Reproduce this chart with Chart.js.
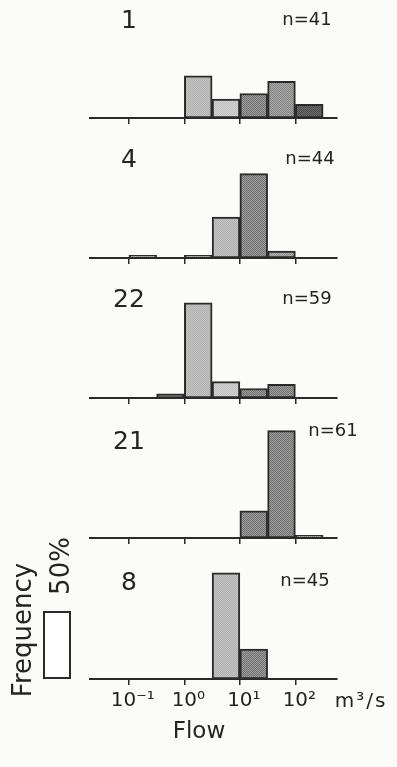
<!DOCTYPE html>
<html>
<head>
<meta charset="utf-8">
<script src="https://cdn.jsdelivr.net/npm/chart.js@4.4.1/dist/chart.umd.min.js"></script>
<style>
  html, body { margin: 0; padding: 0; background: #fbfbf9; }
  #page { position: relative; width: 397px; height: 767px; overflow: hidden; font-family: 'DejaVu Sans', sans-serif; color: #242424; }
  #page canvas { position: absolute; left: 0; }
  .lbl { position: absolute; transform: translate(-50%, -50%); white-space: nowrap; line-height: 1; }
  .rot { transform: translate(-50%, -50%) rotate(-90deg); }
  #key { position: absolute; box-sizing: border-box; border: 2px solid #2a2a2a; background: #fff; }
</style>
</head>
<body>
<div id="page"></div>
<script>
// half-decade flow bins, log10 of the lower edge (m3/s)
var binStarts = [-1.5, -1, -0.5, 0, 0.5, 1, 1.5, 2];
var decadeTicks = [-1, 0, 1, 2];
var tickLabels = ['10⁻¹', '10⁰', '10¹', '10²'];

// frequency (%) per bin, one array per station
var stationNames = ['1', '4', '22', '21', '8'];
var sampleCounts = [41, 44, 59, 61, 45];
var freq1  = [null, null, null, 31, 14, 18, 27, 10];
var freq4  = [null, 2, null, 2, 30, 62, 5, null];
var freq22 = [null, null, 3, 70, 12, 7, 10, null];
var freq21 = [null, null, null, null, null, 20, 79, 2];
var freq8  = [null, null, null, null, 78, 22, null, null];
var freqs = [freq1, freq4, freq22, freq21, freq8];

// shading of each bar as printed
var shades = [
  ['', '', '', 'L', 'P', 'S', 'M', 'K'],
  ['', 'M', '', 'M', 'L', 'S', 'T', ''],
  ['', '', 'K', 'L', 'P', 'S', 'S', ''],
  ['', '', '', '', '', 'S', 'S', 'S'],
  ['', '', '', '', 'L', 'S', '', '']
];

/* ---- layout ---- */
var W = 397;
var PLOT_LEFT = 90, PLOT_RIGHT = 337;
var X_MIN = -1.7, X_MAX = 2.75;
var PX_PER_PCT = 1.36;
var PLOT_H = 112;
var baselines = [118, 258, 398, 538, 679];
var nameX = 129, nameDy = [-99, -100, -100, -98, -98];
var nX = [307, 310, 307, 333, 305], nDy = [-99, -100, -100, -108, -99];
var INK = '#2a2a2a';

var page = document.getElementById('page');

function addText(txt, x, y, size, extra) {
  var d = document.createElement('div');
  d.className = 'lbl' + (extra && extra.rot ? ' rot' : '');
  d.textContent = txt;
  d.style.left = x + 'px';
  d.style.top = y + 'px';
  d.style.fontSize = size + 'px';
  if (extra && extra.spacing) d.style.letterSpacing = extra.spacing + 'px';
  page.appendChild(d);
  return d;
}

function stipple(base, dot) {
  var c = document.createElement('canvas');
  c.width = c.height = 2;
  var g = c.getContext('2d');
  g.fillStyle = base; g.fillRect(0, 0, 2, 2);
  g.fillStyle = dot; g.fillRect(0, 0, 1, 1); g.fillRect(1, 1, 1, 1);
  return g.createPattern(c, 'repeat');
}

var fills = {
  L: stipple('#c4c4c4', '#b0b0b0'),
  P: stipple('#d2d2d2', '#c0c0c0'),
  S: stipple('#9c9c9c', '#727272'),
  M: stipple('#a8a8a8', '#848484'),
  T: stipple('#b2b2b2', '#8e8e8e'),
  K: stipple('#6c6c6c', '#4a4a4a')
};

Chart.defaults.font.family = "'DejaVu Sans', sans-serif";
Chart.defaults.color = '#242424';

freqs.forEach(function (values, p) {
  var last = p === freqs.length - 1;
  var axisH = last ? 40 : 20;
  var cv = document.createElement('canvas');
  cv.width = W;
  cv.height = PLOT_H + axisH;
  cv.style.top = (baselines[p] - PLOT_H) + 'px';
  page.appendChild(cv);

  new Chart(cv, {
    type: 'bar',
    data: {
      datasets: [{
        data: binStarts.map(function (b, i) { return { x: b + 0.25, y: values[i] }; }),
        backgroundColor: shades[p].map(function (k) { return fills[k] || 'transparent'; }),
        borderColor: INK,
        borderWidth: 2,
        borderSkipped: false,
        barPercentage: 1,
        categoryPercentage: 1
      }]
    },
    options: {
      responsive: false, animation: false, devicePixelRatio: 1,
      layout: { padding: { left: PLOT_LEFT, right: W - PLOT_RIGHT, top: 0, bottom: 0 } },
      plugins: { legend: { display: false }, tooltip: { enabled: false } },
      scales: {
        x: {
          type: 'linear', min: X_MIN, max: X_MAX, offset: false,
          afterBuildTicks: function (s) { s.ticks = decadeTicks.map(function (v) { return { value: v }; }); },
          afterFit: function (s) { s.height = axisH; },
          border: { color: INK, width: 2 },
          grid: { offset: false, drawOnChartArea: false, drawTicks: true, tickLength: 6, color: INK, lineWidth: 1.5 },
          ticks: {
            display: last, autoSkip: false, maxRotation: 0, padding: 4,
            font: { size: 20 }, color: '#242424', labelOffset: 4,
            callback: function (v, i) { return tickLabels[i]; }
          }
        },
        y: { display: false, min: 0, max: PLOT_H / PX_PER_PCT }
      }
    }
  });

  addText(stationNames[p], nameX, baselines[p] + nameDy[p], 25);
  addText('n=' + sampleCounts[p], nX[p], baselines[p] + nDy[p], 18);
});

/* 50% key bar and axis titles */
var key = document.createElement('div');
key.id = 'key';
var keyH = 50 * PX_PER_PCT;
key.style.left = '43px';
key.style.width = '28px';
key.style.height = keyH + 'px';
key.style.top = (baselines[4] - keyH) + 'px';
page.appendChild(key);

addText('50%', 60, 566, 26, { rot: true });
addText('Frequency', 22, 630, 26, { rot: true });
addText('m³/s', 361, 700, 20, { spacing: 2 });
addText('Flow', 199, 730, 23);
</script>
</body>
</html>
